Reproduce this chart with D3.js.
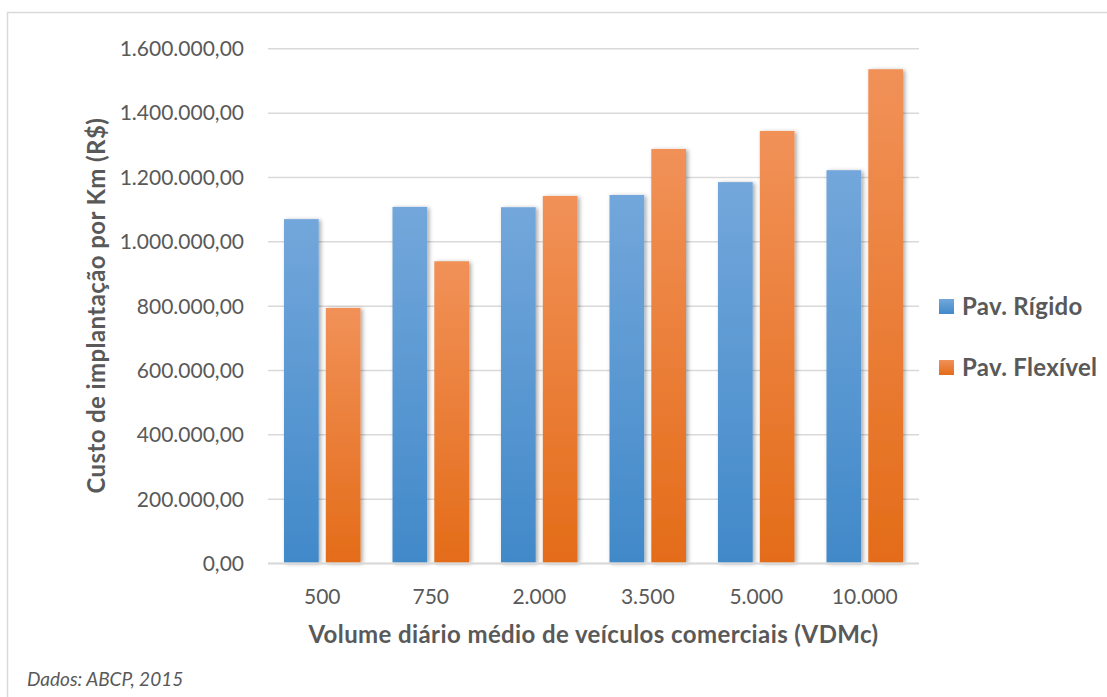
<!DOCTYPE html>
<html>
<head>
<meta charset="utf-8">
<script src="https://cdn.jsdelivr.net/npm/d3@7"></script>
<style>
  html, body { margin: 0; padding: 0; background: #fff; }
  svg { display: block; }
  text { font-family: Lato, "Open Sans", sans-serif; fill: #595959; }
</style>
</head>
<body>
<svg id="chart" width="1107" height="697"></svg>
<script>
const categories = ["500", "750", "2.000", "3.500", "5.000", "10.000"];
const seriesNames = ["Pav. Rígido", "Pav. Flexível"];
const rigido = [1069000, 1107000, 1106000, 1144000, 1184000, 1221000];
const flexivel = [793000, 938000, 1141000, 1287000, 1343000, 1535000];
const yTicks = [0, 200000, 400000, 600000, 800000, 1000000, 1200000, 1400000, 1600000];

const svg = d3.select("#chart");
const plot = { left: 268, right: 919, top: 48.3, bottom: 563 };

// outer border (chart area is cropped on right/bottom)
svg.append("rect").attr("x", 7.5).attr("y", 12.5).attr("width", 1300).attr("height", 900)
  .attr("fill", "none").attr("stroke", "#d9d9d9").attr("stroke-width", 1.5);

const defs = svg.append("defs");
function grad(id, top, bottom) {
  const g = defs.append("linearGradient").attr("id", id).attr("x1", 0).attr("y1", 0).attr("x2", 0).attr("y2", 1);
  g.append("stop").attr("offset", "0%").attr("stop-color", top);
  g.append("stop").attr("offset", "100%").attr("stop-color", bottom);
}
grad("gBlue", "#73a7db", "#4189c9");
grad("gOrange", "#f19158", "#e46c19");
const f = defs.append("filter").attr("id", "shadow").attr("x", "-30%").attr("y", "-10%").attr("width", "160%").attr("height", "120%");
f.append("feDropShadow").attr("dx", 2).attr("dy", 1).attr("stdDeviation", 2.2)
  .attr("flood-color", "#000").attr("flood-opacity", 0.35);

const y = d3.scaleLinear().domain([0, 1600000]).range([plot.bottom, plot.top]);
const x0 = d3.scaleBand().domain(categories).range([plot.left, plot.right]).padding(0);
const step = x0.bandwidth();
const x1 = d3.scaleBand().domain(seriesNames).range([16, step - 16]).paddingInner(0.17).paddingOuter(0);

const fmt = v => {
  const s = d3.format(",.2f")(v);
  return s.replace(/,/g, "#").replace(".", ",").replace(/#/g, ".");
};

// gridlines
const grid = svg.append("g").attr("transform", `translate(${plot.left},0)`)
  .call(d3.axisLeft(y).tickValues(yTicks).tickSize(-(plot.right - plot.left)).tickFormat(""));
grid.select(".domain").remove();
grid.selectAll("line").attr("stroke", "#d9d9d9").attr("stroke-width", 1.5);

// y tick labels
const yAxis = svg.append("g").attr("transform", `translate(244,0)`)
  .call(d3.axisLeft(y).tickValues(yTicks).tickSize(0).tickPadding(0).tickFormat(fmt));
yAxis.select(".domain").remove();
yAxis.selectAll("text").style("font-size", "21px").attr("fill", "#595959")
  .attr("text-anchor", "end").attr("dy", "0.35em");

// bars
const data = categories.map((c, i) => [
  { s: seriesNames[0], v: rigido[i], fill: "url(#gBlue)" },
  { s: seriesNames[1], v: flexivel[i], fill: "url(#gOrange)" }
]);
const groups = svg.append("g").selectAll("g").data(data).join("g")
  .attr("transform", (d, i) => `translate(${x0(categories[i])},0)`);
groups.selectAll("rect").data(d => d).join("rect")
  .attr("x", d => x1(d.s)).attr("width", x1.bandwidth())
  .attr("y", d => y(d.v)).attr("height", d => y(0) - y(d.v) - 0.5)
  .attr("fill", d => d.fill).attr("filter", "url(#shadow)");

// x axis line
svg.append("line").attr("x1", plot.left).attr("x2", plot.right)
  .attr("y1", y(0) + 0.5).attr("y2", y(0) + 0.5).attr("stroke", "#d9d9d9").attr("stroke-width", 2);

// x tick labels
const xAxis = svg.append("g").attr("transform", `translate(0,${plot.bottom})`)
  .call(d3.axisBottom(x0).tickSize(0).tickPadding(0));
xAxis.select(".domain").remove();
xAxis.selectAll("text").style("font-size", "21px").attr("fill", "#595959").attr("dy", "41px");

// axis titles
svg.append("text").attr("x", (plot.left + plot.right) / 2).attr("y", 643)
  .attr("text-anchor", "middle").style("font-size", "24px").style("font-weight", "bold")
  .style("letter-spacing", "0.4px")
  .text("Volume diário médio de veículos comerciais (VDMc)");
svg.append("text").attr("transform", `translate(105,${(plot.top + plot.bottom) / 2}) rotate(-90)`)
  .attr("text-anchor", "middle").style("font-size", "24px").style("font-weight", "bold")
  .style("letter-spacing", "0.4px")
  .text("Custo de implantação por Km (R$)");

// legend
const legend = svg.append("g").selectAll("g").data(seriesNames).join("g")
  .attr("transform", (d, i) => `translate(939,${299 + i * 61})`);
legend.append("rect").attr("width", 15).attr("height", 15)
  .attr("fill", (d, i) => i === 0 ? "url(#gBlue)" : "url(#gOrange)");
legend.append("text").attr("x", 23).attr("y", 7.5).attr("dy", "0.35em")
  .style("font-size", "24px").style("font-weight", "bold").style("letter-spacing", "0.3px").text(d => d);

// source note
svg.append("text").attr("x", 27).attr("y", 686).style("font-size", "19px").style("font-style", "italic")
  .text("Dados: ABCP, 2015");
</script>
</body>
</html>
